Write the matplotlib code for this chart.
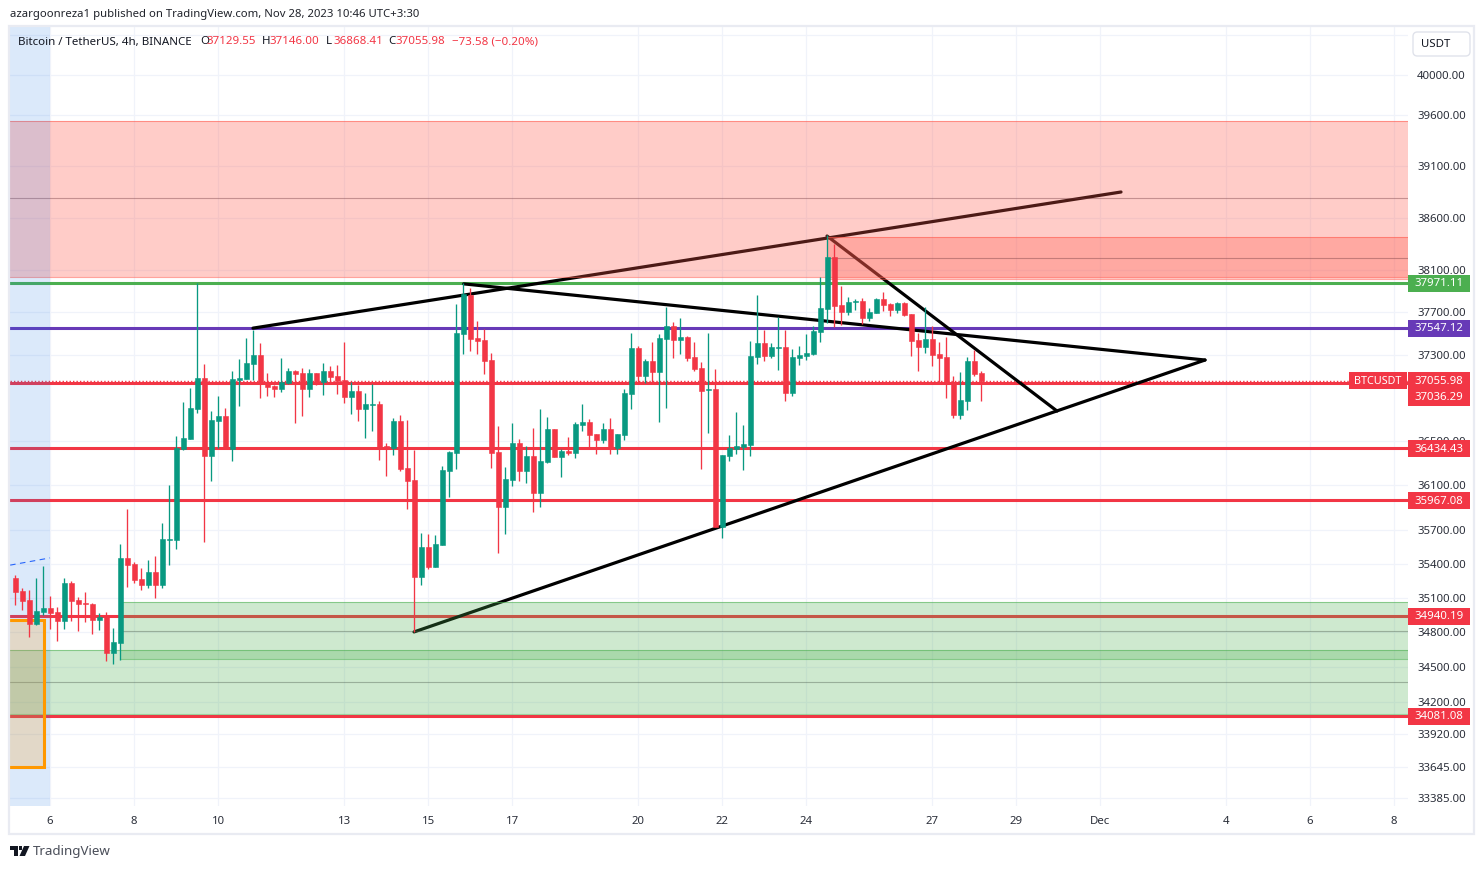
import numpy as np
import matplotlib
matplotlib.use('Agg')
import matplotlib.pyplot as plt
from matplotlib.patches import Rectangle, Polygon, FancyBboxPatch

plt.rcParams['font.family'] = ['Noto Sans', 'DejaVu Sans']

W, H = 1484, 869

# 4h candles, first bar is Nov 5 20:00
opens = [35274,35160,35081,34871,34976,35011,34976,34897,35230,35081,
         35055,35046,34906,34932,34619,34706,35452,35398,35265,35213,
         35327,35213,35614,35611,36430,36522,36797,37083,36367,36687,
         36733,36430,37065,37074,37212,37297,37037,37009,36981,37037,
         37148,37129,36981,37129,37046,37148,37101,37065,36907,36963,
         36797,36837,36843,36458,36439,36687,36258,36150,35283,35549,
         35372,35567,36231,36394,37493,37860,37456,37437,37250,36403,
         35906,36150,36485,36231,36367,36032,36312,36614,36358,36412,
         36394,36650,36678,36567,36513,36614,36439,36558,36935,37362,
         37101,37241,37139,37447,37568,37437,37465,37278,37176,36972,
         36981,35727,36367,36430,36449,36467,37278,37409,37287,37362,
         37371,36944,37269,37287,37306,37512,37727,38221,37765,37699,
         37794,37803,37643,37690,37822,37775,37718,37784,37680,37437,
         37371,37447,37306,37278,37046,36742,36871,37241,37129.55]
highs = [35301,35186,35169,35274,35380,35116,35020,35274,35248,35107,
         35151,35055,34967,34976,34836,35576,35888,35416,35363,35434,
         35469,35763,36104,36549,36861,36991,37971,37212,36778,36917,
         36806,37148,37259,37456,37530,37409,37129,37018,37269,37176,
         37157,37176,37167,37129,37222,37194,37203,37418,37046,37018,
         36944,37028,36871,36485,36714,36742,36696,36421,35674,35665,
         35656,36276,36412,37775,37974,37926,37615,37540,37315,36641,
         36267,36668,36522,36458,36623,36797,36724,36614,36430,36540,
         36678,36843,36705,36567,36668,36714,36567,36981,37502,37381,
         37259,37418,37493,37747,37605,37643,37474,37418,37231,37502,
         37167,36376,36558,36769,36650,37428,37860,37530,37409,37652,
         37530,37353,37381,37493,37568,38031,38431,38345,37945,37841,
         37822,37831,37737,37831,37888,37784,37794,37794,37680,37502,
         37747,37568,37418,37465,37101,37139,37278,37343,37146.00]
lows = [35037,34994,34761,34862,34950,34827,34723,34827,34897,34810,
        34889,34784,34819,34550,34524,34558,35195,35230,35169,35186,
        35099,35186,35389,35531,36421,36522,36760,35594,36141,36439,
        36430,36321,36825,37074,37065,36898,36917,36907,36954,37028,
        36668,36733,36907,37018,36926,37046,36935,36852,36751,36687,
        36531,36595,36330,36186,36376,36231,35888,34801,35213,35354,
        35372,35567,35996,36249,37306,37334,37306,37120,36258,35496,
        35665,36095,36141,36123,35861,35906,36303,36358,36177,36376,
        36349,36595,36439,36385,36485,36385,36385,36513,36797,37046,
        37037,37046,36678,36806,37269,37306,37241,37148,36249,36577,
        35727,35629,36321,36385,36240,36367,37212,37241,37269,37157,
        36871,36917,37203,37250,37297,37418,37596,37558,37577,37671,
        37718,37587,37615,37690,37708,37661,37690,37661,37287,37148,
        37315,37194,37046,36898,36714,36705,36788,37101,36868.41]
closes = [35151,35072,34871,34985,35011,34967,34897,35230,35072,35046,
          35046,34906,34932,34619,34715,35452,35389,35257,35213,35327,
          35213,35620,35620,36439,36531,36806,37083,36367,36696,36733,
          36430,37074,37083,37222,37297,37046,37000,36981,37046,37148,
          37120,36981,37129,37046,37148,37092,37055,36907,36963,36797,
          36843,36843,36449,36439,36687,36249,36141,35283,35549,35372,
          35576,36240,36403,37502,37869,37447,37428,37241,36394,35906,
          36159,36485,36231,36367,36032,36321,36614,36358,36412,36394,
          36660,36678,36558,36513,36614,36430,36567,36944,37362,37101,
          37241,37139,37456,37568,37437,37465,37269,37167,36963,36981,
          35727,36376,36439,36458,36476,37287,37409,37287,37371,37371,
          36944,37278,37297,37315,37521,37737,38221,37756,37699,37794,
          37803,37643,37699,37822,37765,37718,37784,37671,37428,37371,
          37447,37297,37269,37046,36742,36880,37241,37120,37055.98]

# levels from the price scale
level_green = 37971.11
level_purple = 37547.12
level_last = 37055.98
level_close = 37036.29
levels_red = [36434.43, 35967.08, 34940.19, 34081.08]

# zones: day start, low, middle, high
red_zone = [5.0, 38030, 38789, 39543]
red_zone2 = [24.5, 38011, 38211, 38412]
green_zone = [7.667, 34562, 34813, 35062]
green_zone2 = [5.0, 34098, 34368, 34642]
orange_box = [4.0, 5.857, 33646, 34905]
session_end = 6.0

# trendlines: (day, price) -> (day, price)
trend_up1 = ([10.833, 31.5], [37547, 38847])
trend_down1 = ([15.85, 33.5], [37965, 37249])
trend_up2 = ([14.667, 33.5], [34801, 37249])
trend_down2 = ([24.5, 29.976], [38422, 36777])
session_dash = ([5.05, 6.0], [35387, 35451])

price_ticks = [40000, 39600, 39100, 38600, 38100, 37700, 37300, 36500, 36100,
               35700, 35400, 35100, 34800, 34500, 34200, 33920, 33645, 33385]
day_ticks = [6, 8, 10, 13, 15, 17, 20, 22, 24, 27, 29, 31, 34, 36, 38]
day_labels = ['6', '8', '10', '13', '15', '17', '20', '22', '24', '27', '29', 'Dec', '4', '6', '8']

RED = '#f23645'
GREEN = '#089981'
TXT = '#131722'
GRID = '#f0f3fa'
BORDER = '#e9ebf2'

fig = plt.figure(figsize=(W / 100, H / 100), dpi=100, facecolor='white')
ax = fig.add_axes([10 / W, 1 - 806 / H, 1398 / W, 779 / H])
ax.set_yscale('log')
ax.set_xlim(5.0476, 38.333)
ax.set_ylim(33319, 40483)
for s in ax.spines.values():
    s.set_visible(False)

ax.set_axisbelow(True)
ax.yaxis.tick_right()
ax.set_yticks(price_ticks, labels=['%.2f' % p for p in price_ticks])
ax.minorticks_off()
ax.set_xticks(day_ticks, labels=day_labels)
ax.tick_params(axis='y', length=0, pad=6.5, labelsize=8.2, labelcolor='#2a2e39')
ax.tick_params(axis='x', length=0, pad=7, labelsize=8.2, labelcolor='#2a2e39')
ax.grid(True, color=GRID, lw=0.9)
ax.axhline(40402, color=GRID, lw=0.9, zorder=0.5)

# horizontal levels sit under the zones and candles
ax.axhline(level_green, color='#4caf50', lw=2.2, zorder=1)
ax.axhline(level_purple, color='#673ab7', lw=2.2, zorder=1)
ax.axhline(level_close, color=RED, lw=2.2, zorder=1)
ax.axhline(level_last, color=RED, lw=1.0, ls=(0, (1, 1.5)), zorder=1)
for lv in levels_red:
    ax.axhline(lv, color=RED, lw=2.2, zorder=1)

# trendlines
for tr in [trend_up1, trend_down1, trend_up2, trend_down2]:
    ax.plot(tr[0], tr[1], color='black', lw=2.3, solid_capstyle='round', zorder=1.5)
ax.plot(session_dash[0], session_dash[1], color='#2962ff', lw=0.8, ls=(0, (5, 4)), zorder=1.6)


def zone(z, color, alpha, midcolor, z_order=2):
    x1 = ax.get_xlim()[1]
    ax.add_patch(Rectangle((z[0], z[1]), x1 - z[0], z[3] - z[1], fc=color, alpha=alpha,
                           ec='none', zorder=z_order))
    ax.plot([z[0], x1], [z[1], z[1]], color=color, alpha=0.55, lw=0.8, zorder=z_order)
    ax.plot([z[0], x1], [z[3], z[3]], color=color, alpha=0.55, lw=0.8, zorder=z_order)
    ax.plot([z[0], x1], [z[2], z[2]], color=midcolor, alpha=0.4, lw=0.8, zorder=z_order)


zone(red_zone, '#ff584b', 0.30, '#70383c')
zone(red_zone2, '#ff584b', 0.30, '#70383c')
zone(green_zone, '#4caf50', 0.27, '#4a5a4c')
zone(green_zone2, '#4caf50', 0.27, '#4a5a4c')

# session band and orange box at the left edge
ax.axvspan(4.0, session_end, fc='#2178e6', alpha=0.16, ec='none', zorder=2.1)
ax.add_patch(Rectangle((orange_box[0], orange_box[2]), orange_box[1] - orange_box[0],
                       orange_box[3] - orange_box[2], fc='#ff9800', alpha=0.2, ec='none', zorder=2.2))
ax.add_patch(Rectangle((orange_box[0], orange_box[2]), orange_box[1] - orange_box[0],
                       orange_box[3] - orange_box[2], fc='none', ec='#ff9800', lw=2.2, zorder=2.3))

# candles
o = np.array(opens)
c = np.array(closes)
days = 5 + 1 / 6 + np.arange(len(o)) / 6
cols = [GREEN if b >= a else RED for a, b in zip(opens, closes)]
ax.vlines(days, lows, highs, colors=cols, lw=0.95, zorder=3)
ax.bar(days, np.abs(c - o), bottom=np.minimum(o, c), width=5 / 42, color=cols,
       edgecolor=cols, linewidth=0.4, zorder=3.1)


# helpers in figure pixels, y from the top
def box(x0, y0, x1, y1, color):
    ax.add_patch(Rectangle((x0 / W, 1 - y1 / H), (x1 - x0) / W, (y1 - y0) / H, fc=color, ec='none',
                           transform=fig.transFigure, clip_on=False, zorder=5))


def label(x, y, s, color='white', size=8.2, ha='center', **kw):
    fig.text(x / W, 1 - y / H, s, color=color, fontsize=size, ha=ha, va='center', zorder=6, **kw)


def price_y(p):
    return H - ax.transData.transform((6, p))[1]


def price_label(p, color, dy=0):
    y = price_y(p) + dy
    box(1408, y - 8.5, 1469.5, y + 8.5, color)
    label(1439, y + 0.5, '%.2f' % p, fontweight='bold')


price_label(level_green, '#4caf50')
price_label(level_purple, '#673ab7')
price_label(level_last, RED, 0)
price_label(level_close, RED, price_y(level_last) + 16.5 - price_y(level_close))
for lv in levels_red:
    price_label(lv, RED, 0.5)

yb = price_y(level_last)
box(1349, yb - 8.5, 1407, yb + 8.5, RED)
label(1378, yb + 0.5, 'BTCUSDT', fontweight='bold', size=7.8)

# outer frame
fig.add_artist(Rectangle((9 / W, 1 - 833.5 / H), 1464.5 / W, 807.5 / H, fc='none', ec=BORDER, lw=1.6,
                         transform=fig.transFigure, zorder=4))
# currency button
ax.add_patch(FancyBboxPatch((1413 / W, 1 - 56 / H), 57 / W, 24 / H, boxstyle='round,pad=0,rounding_size=0.003',
                            fc='white', ec='#e0e3eb', lw=1.0, transform=fig.transFigure, clip_on=False,
                            mutation_aspect=W / H, zorder=5))
label(1421, 44.5, 'USDT', color=TXT, ha='left')

# header text
label(10, 15, 'azargoonreza1 published on TradingView.com, Nov 28, 2023 10:46 UTC+3:30', color='#20232b', size=8.15, ha='left')
label(18, 42, 'Bitcoin / TetherUS, 4h, BINANCE', color=TXT, size=8.3, ha='left')
for x, s in [(200, 'O'), (262, 'H'), (326, 'L'), (388, 'C')]:
    label(x, 42, s, color=TXT, size=8.3, ha='left')
for x, s in [(207, '%.2f' % opens[-1]), (270, '%.2f' % highs[-1]), (333, '%.2f' % lows[-1]),
             (395, '%.2f' % closes[-1]), (452, '\u221273.58 (\u22120.20%)')]:
    label(x, 42, s, color=RED, size=8.3, ha='left')

# footer logo
logo = '#131722'
fig.add_artist(Polygon([(10 / W, 1 - 846 / H), (17.5 / W, 1 - 846 / H), (17.5 / W, 1 - 856 / H),
                        (14 / W, 1 - 856 / H), (14 / W, 1 - 850 / H), (10 / W, 1 - 850 / H)],
                       fc=logo, ec='none', transform=fig.transFigure))
fig.add_artist(Polygon([(24 / W, 1 - 846 / H), (29.5 / W, 1 - 846 / H), (25 / W, 1 - 856 / H),
                        (19.5 / W, 1 - 856 / H)], fc=logo, ec='none', transform=fig.transFigure))
fig.add_artist(Rectangle((18.5 / W, 1 - 850 / H), 3.5 / W, 4 / H, fc=logo, ec='none', transform=fig.transFigure))
label(33, 851.5, 'TradingView', color='#4a4e59', size=9.6, ha='left')

fig.savefig('out.png', dpi=100)
